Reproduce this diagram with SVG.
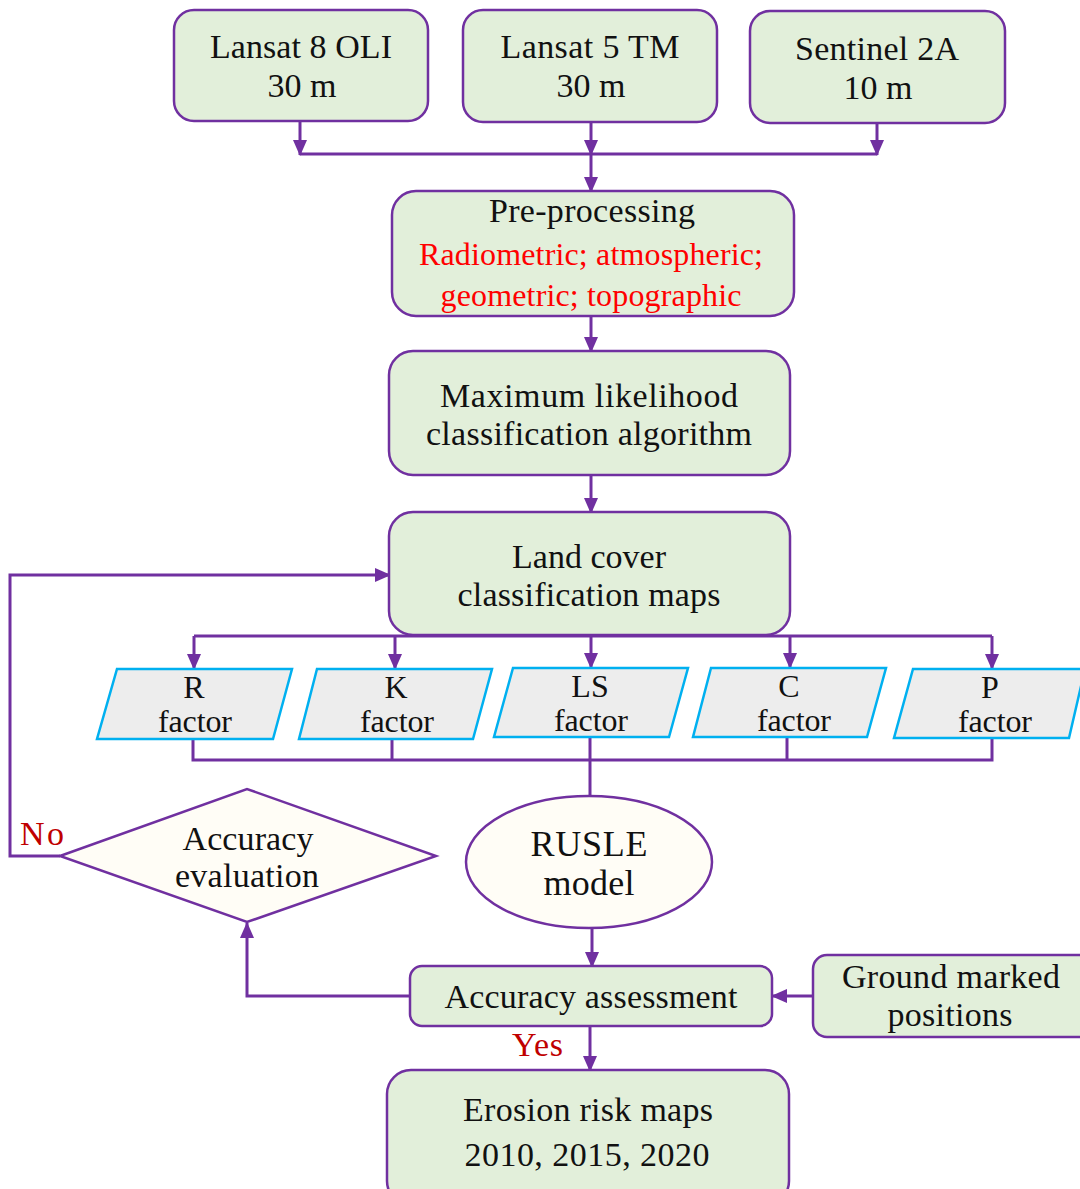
<svg xmlns="http://www.w3.org/2000/svg" width="1080" height="1189" viewBox="0 0 1080 1189">
<defs>
<style>
.box{fill:#e2efda;stroke:#7030a0;stroke-width:2.5}
.par{fill:#ededed;stroke:#00b0f0;stroke-width:2.5}
.cream{fill:#fffdf6;stroke:#7030a0;stroke-width:2.5}
.t{font-family:"Liberation Serif","Times New Roman",serif;font-size:34px;fill:#111;text-anchor:middle}
.s32{font-size:32px}
.red{fill:#ff0000}
.dred{fill:#c00000;text-anchor:start}
.ln{fill:none;stroke:#7030a0;stroke-width:3}
.arr{marker-end:url(#ah)}
</style>
<marker id="ah" markerUnits="userSpaceOnUse" markerWidth="16" markerHeight="16" viewBox="0 0 16 16" refX="15" refY="8" orient="auto">
<path d="M0,1 L16,8 L0,15 Z" fill="#7030a0"/>
</marker>
</defs>
<rect width="1080" height="1189" fill="#fff"/>

<g id="connectors">
<path class="ln arr" d="M300,121 V155"/>
<path class="ln arr" d="M591,122 V155"/>
<path class="ln arr" d="M877,123 V155"/>
<path class="ln" d="M300,154 H877"/>
<path class="ln arr" d="M591,154 V192"/>
<path class="ln arr" d="M591,316 V352"/>
<path class="ln arr" d="M591,475 V513"/>
<path class="ln" d="M194,636 H992"/>
<path class="ln arr" d="M194,636 V669"/>
<path class="ln arr" d="M395,636 V669"/>
<path class="ln arr" d="M591,636 V668"/>
<path class="ln arr" d="M790,636 V668"/>
<path class="ln arr" d="M992,636 V669"/>
<path class="ln" d="M193,739 V760 H992 V739"/>
<path class="ln" d="M392,739 V760"/>
<path class="ln" d="M590,737 V797"/>
<path class="ln" d="M787,737 V760"/>
<path class="ln arr" d="M60,856 H10 V575 H390"/>
<path class="ln arr" d="M592,929 V967"/>
<path class="ln arr" d="M410,996 H247 V923"/>
<path class="ln arr" d="M813,996 H772"/>
<path class="ln arr" d="M590,1026 V1071"/>
</g>

<g id="n-landsat8">
<rect class="box" x="174" y="10" width="254" height="111" rx="20"/>
<text class="t" x="301" y="58" textLength="182" lengthAdjust="spacing">Lansat 8 OLI</text>
<text class="t" x="302" y="97">30 m</text>
</g>
<g id="n-landsat5">
<rect class="box" x="463" y="10" width="254" height="112" rx="20"/>
<text class="t" x="590" y="58" textLength="179" lengthAdjust="spacing">Lansat 5 TM</text>
<text class="t" x="591" y="97">30 m</text>
</g>
<g id="n-sentinel">
<rect class="box" x="750" y="11" width="255" height="112" rx="20"/>
<text class="t" x="877" y="60" textLength="164" lengthAdjust="spacing">Sentinel 2A</text>
<text class="t" x="878" y="99">10 m</text>
</g>
<g id="n-preproc">
<rect class="box" x="392" y="191" width="402" height="125" rx="24"/>
<text class="t" x="592" y="222" textLength="206" lengthAdjust="spacing">Pre-processing</text>
<text class="t s32 red" x="591" y="265" textLength="344" lengthAdjust="spacing">Radiometric; atmospheric;</text>
<text class="t s32 red" x="591" y="306" textLength="301" lengthAdjust="spacing">geometric; topographic</text>
</g>
<g id="n-mlc">
<rect class="box" x="389" y="351" width="401" height="124" rx="24"/>
<text class="t" x="589" y="407" textLength="298" lengthAdjust="spacing">Maximum  likelihood</text>
<text class="t" x="589" y="445" textLength="326" lengthAdjust="spacing">classification algorithm</text>
</g>
<g id="n-landcover">
<rect class="box" x="389" y="512" width="401" height="123" rx="24"/>
<text class="t" x="589" y="568" textLength="154" lengthAdjust="spacing">Land cover</text>
<text class="t" x="589" y="606" textLength="263" lengthAdjust="spacing">classification maps</text>
</g>
<g id="n-r">
<polygon class="par" points="117,669 292,669 273,739 97,739"/>
<text class="t s32" x="194" y="698">R</text>
<text class="t s32" x="195" y="732" textLength="74" lengthAdjust="spacing">factor</text>
</g>
<g id="n-k">
<polygon class="par" points="317,669 492,669 473,739 299,739"/>
<text class="t s32" x="396" y="698">K</text>
<text class="t s32" x="397" y="732" textLength="74" lengthAdjust="spacing">factor</text>
</g>
<g id="n-ls">
<polygon class="par" points="513,668 688,668 669,737 494,737"/>
<text class="t s32" x="590" y="697">LS</text>
<text class="t s32" x="591" y="731" textLength="74" lengthAdjust="spacing">factor</text>
</g>
<g id="n-c">
<polygon class="par" points="711,668 886,668 867,737 693,737"/>
<text class="t s32" x="789" y="697">C</text>
<text class="t s32" x="794" y="731" textLength="74" lengthAdjust="spacing">factor</text>
</g>
<g id="n-p">
<polygon class="par" points="913,669 1085,669 1069,738 894,738"/>
<text class="t s32" x="990" y="698">P</text>
<text class="t s32" x="995" y="732" textLength="74" lengthAdjust="spacing">factor</text>
</g>
<g id="n-acceval">
<polygon class="cream" points="60,856 247,789 436,856 247,922"/>
<text class="t" x="248" y="850" textLength="131" lengthAdjust="spacing">Accuracy</text>
<text class="t" x="247" y="887" textLength="144" lengthAdjust="spacing">evaluation</text>
</g>
<text class="t dred" x="20" y="845" textLength="44" lengthAdjust="spacing">No</text>
<g id="n-rusle">
<ellipse class="cream" cx="589" cy="862" rx="123" ry="66"/>
<text class="t" x="589" y="856" style="font-size:36px" textLength="117" lengthAdjust="spacing">RUSLE</text>
<text class="t" x="589" y="895" style="font-size:36px" textLength="91" lengthAdjust="spacing">model</text>
</g>
<g id="n-accassess">
<rect class="box" x="410" y="966" width="362" height="60" rx="12"/>
<text class="t" x="591" y="1008" textLength="293" lengthAdjust="spacing">Accuracy assessment</text>
</g>
<g id="n-ground">
<rect class="box" x="813" y="955" width="280" height="82" rx="14"/>
<text class="t" x="951" y="988" textLength="218" lengthAdjust="spacing">Ground marked</text>
<text class="t" x="950" y="1026" textLength="125" lengthAdjust="spacing">positions</text>
</g>
<text class="t dred" x="512" y="1056" textLength="51" lengthAdjust="spacing">Yes</text>
<g id="n-erosion">
<rect class="box" x="387" y="1070" width="402" height="135" rx="24"/>
<text class="t" x="588" y="1121" textLength="250" lengthAdjust="spacing">Erosion risk maps</text>
<text class="t" x="587" y="1166" textLength="245" lengthAdjust="spacing">2010, 2015, 2020</text>
</g>
</svg>
